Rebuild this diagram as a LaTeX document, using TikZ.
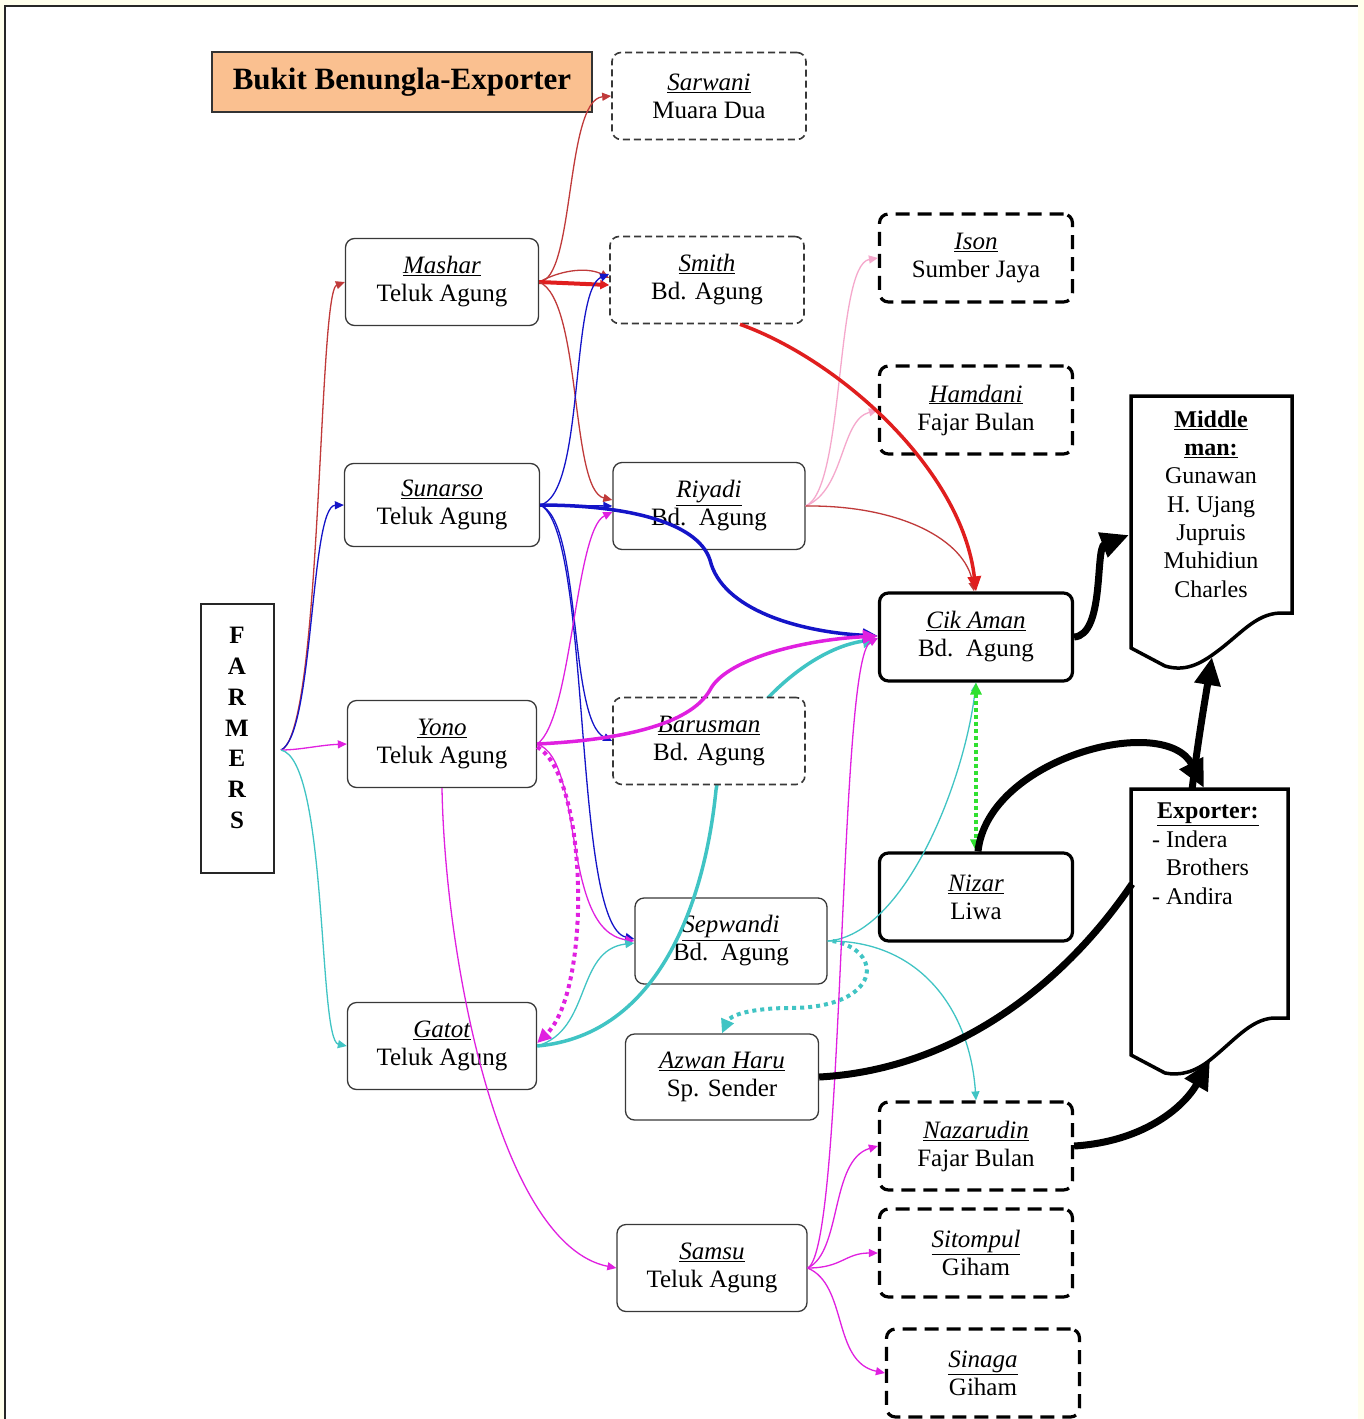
\documentclass[tikz,border=0pt]{standalone}
\usepackage{fontspec}
\setmainfont{Liberation Serif}
\usetikzlibrary{arrows.meta}
\definecolor{cream}{HTML}{FFFFEC}
\definecolor{peach}{HTML}{FAC090}
\definecolor{cred}{HTML}{E01E1E}
\definecolor{cdred}{HTML}{C03A3A}
\definecolor{cblue}{HTML}{1414C8}
\definecolor{cmag}{HTML}{E020E0}
\definecolor{ccyan}{HTML}{40C4C4}
\definecolor{cpink}{HTML}{F5A8CC}
\definecolor{cgreen}{HTML}{30E030}
\newcommand{\nmx}[1]{\underline{\textit{#1}}}
\begin{document}
\begin{tikzpicture}[x=1pt,y=-1pt,
  every node/.style={font=\fontsize{25}{28}\selectfont, align=center, inner sep=0pt},
  tbox/.style={draw=black!78, line width=1.3pt, rounded corners=9pt, fill=white, minimum width=193pt, minimum height=87pt},
  kbox/.style={draw=black, line width=3.2pt, rounded corners=9pt, fill=white, minimum width=193pt, minimum height=88pt},
  dbox/.style={draw=black!78, line width=1.6pt, dash pattern=on 7pt off 4pt, rounded corners=9pt, fill=white, minimum width=194pt, minimum height=87pt},
  kdbox/.style={draw=black, line width=3.2pt, dash pattern=on 14pt off 8pt, rounded corners=9pt, fill=white, minimum width=193pt, minimum height=88pt},
  cthin/.style={line width=1.3pt, -{Triangle[length=9pt,width=8pt]}},
  cmed/.style={line width=3.5pt, -{Triangle[length=15pt,width=13pt]}},
  cbig/.style={line width=7pt, -{Triangle[length=28pt,width=25pt]}},
  cdots/.style={line width=4pt, dash pattern=on 4pt off 4pt, -{Triangle[length=14pt,width=13pt]}},
  docline/.style={draw=black, line width=3.5pt, fill=white, line join=miter}
]
\useasboundingbox (0,0) rectangle (1364,1419);
% page frame
\fill[cream] (0,0) rectangle (1364,1419);
\fill[white] (5,6) rectangle (1358,1419);
\draw[line width=2pt, black!85] (5,1419) -- (5,6) -- (1358,6);

% title
\node[draw=black!80, line width=1.3pt, fill=peach, minimum width=380pt, minimum height=60pt,
      font=\fontsize{31}{35}\selectfont\bfseries] (title) at (402,82) {Bukit Benungla-Exporter};

% farmers
\node[draw=black!85, line width=1.5pt, minimum width=73pt, minimum height=269pt] (farmers) at (237.5,738.5) {};
\node[font=\fontsize{25}{30.8}\selectfont\bfseries] (farmerslbl) at (237,728) {F\\A\\R\\M\\E\\R\\S};
\coordinate (fsrc) at (281,750);

% boxes
\node[dbox] (sarwani) at (709,96) {\nmx{Sarwani}\\Muara Dua};
\node[dbox] (smith) at (707,280) {\nmx{Smith}\\Bd. Agung};
\node[kdbox] (ison) at (976,258) {\nmx{Ison}\\Sumber Jaya};
\node[kdbox] (hamdani) at (976,410) {\nmx{Hamdani}\\Fajar Bulan};
\node[tbox] (mashar) at (442,282) {\nmx{Mashar}\\Teluk Agung};
\node[tbox, minimum width=195pt, minimum height=83pt] (sunarso) at (442,505) {\nmx{Sunarso}\\Teluk Agung};
\node[tbox, minimum width=192pt] (riyadi) at (709,506) {\nmx{Riyadi}\\Bd.\ \ Agung};
\node[kbox] (cikaman) at (976,637) {\nmx{Cik Aman}\\Bd.\ \ Agung};
\node[tbox, minimum width=189pt] (yono) at (442,744) {\nmx{Yono}\\Teluk Agung};
\node[kbox] (nizar) at (976,897) {\nmx{Nizar}\\Liwa};
\node[tbox, minimum width=192pt, minimum height=86pt] (sepwandi) at (731,941) {\nmx{Sepwandi}\\Bd.\ \ Agung};
\node[tbox, minimum width=189pt] (gatot) at (442,1046) {\nmx{Gatot}\\Teluk Agung};
\node[tbox, minimum height=86pt] (azwan) at (722,1077) {\nmx{Azwan Haru}\\Sp. Sender};
\node[kdbox] (nazarudin) at (976,1146) {\nmx{Nazarudin}\\Fajar Bulan};
\node[tbox, minimum width=190pt] (samsu) at (712,1268) {\nmx{Samsu}\\Teluk Agung};
\node[kdbox] (sitompul) at (976,1253) {\nmx{Sitompul}\\Giham};
\node[kdbox] (sinaga) at (983,1373) {\nmx{Sinaga}\\Giham};

% document shapes
\draw[docline] (1131,396) -- (1292,396) -- (1292,613) -- (1280,613)
  .. controls (1255,614) and (1240,635) .. (1215,653)
  .. controls (1200,664) and (1185,672) .. (1165,666) -- (1131,648) -- cycle;
\node[font=\fontsize{24}{28.3}\selectfont] (mmtext) at (1211,504)
  {\textbf{\underline{Middle}}\\\textbf{\underline{man:}}\\Gunawan\\H. Ujang\\Jupruis\\Muhidiun\\Charles};
\draw[docline] (1131,789) -- (1288,789) -- (1288,1018) -- (1273,1018)
  .. controls (1250,1020) and (1235,1040) .. (1210,1060)
  .. controls (1195,1072) and (1180,1076) .. (1165,1073) -- (1131,1055) -- cycle;
\node[anchor=north west, align=left, font=\fontsize{24}{28.5}\selectfont] (exptext) at (1152,803)
  {\hspace*{5pt}\textbf{\underline{Exporter:}}\\- Indera\\\hspace*{14pt}Brothers\\- Andira};
\coordinate (mmleft) at (1129,535);
\coordinate (mmbottom) at (1212,657);
\coordinate (exptop) at (1204,788);
\coordinate (exptopb) at (1192,790);
\coordinate (expleft) at (1132,884);
\coordinate (expbottom) at (1210,1061);

% thick cyan (hidden under Barusman)
\draw[cmed, ccyan] (gatot.east) .. controls (660,1035) and (705,900) .. (716,790)
  .. controls (725,730) and (800,650) .. ([yshift=-2pt]cikaman.west);
\node[dbox, minimum width=192pt] (barusman) at (709,741) {\nmx{Barusman}\\Bd. Agung};

% farmers fan
\draw[cthin, cdred] (fsrc) .. controls (322,735) and (318,292) .. (mashar.west);
\draw[cthin, cblue] (fsrc) .. controls (314,735) and (310,506) .. (sunarso.west);
\draw[cthin, cmag] (fsrc) .. controls (300,750) and (320,745) .. (yono.west);
\draw[cthin, ccyan] (fsrc) .. controls (328,760) and (318,1040) .. (gatot.west);

% mashar
\draw[cthin, cdred] (mashar.east) .. controls (575,280) and (565,100) .. (sarwani.west);
\draw[cthin, cdred] (mashar.east) .. controls (565,268) and (590,268) .. ([yshift=2pt]smith.west);
\draw[line width=4pt, cred, -{Triangle[length=9pt,width=9pt]}] (mashar.east) -- ([yshift=-5pt]smith.west);
\draw[cthin, cdred] (mashar.east) .. controls (582,300) and (570,490) .. ([yshift=6pt]riyadi.west);

% sunarso
\draw[cthin, cblue] (sunarso.east) .. controls (585,495) and (570,290) .. ([yshift=6pt]smith.west);
\draw[cthin, cblue] (sunarso.east) -- (riyadi.west);
\draw[cthin, cblue] (sunarso.east) .. controls (582,520) and (568,720) .. (barusman.west);
\draw[cthin, cblue] (sunarso.east) .. controls (592,530) and (572,925) .. ([yshift=2pt]sepwandi.west);
\draw[cmed, cblue] (sunarso.east) .. controls (620,505) and (697,520) .. (710,560)
  .. controls (722,610) and (800,632) .. ([yshift=1pt]cikaman.west);

% yono
\draw[cthin, cmag] (yono.east) .. controls (572,720) and (575,530) .. ([yshift=-6pt]riyadi.west);
\draw[cthin, cmag] (yono.east) .. controls (585,760) and (560,930) .. (sepwandi.west);
\draw[cdots, cmag] ([yshift=-3pt]yono.east) .. controls (588,775) and (592,990) .. ([yshift=3pt]gatot.east);
\draw[cthin, cmag] (yono.south) .. controls (445,960) and (500,1245) .. (samsu.west);
\draw[cmed, cmag] (yono.east) .. controls (620,740) and (690,725) .. (710,690)
  .. controls (725,660) and (800,640) .. ([yshift=1pt]cikaman.west);

% gatot
\draw[cthin, ccyan] (gatot.east) .. controls (592,1030) and (575,950) .. ([yshift=-2pt]sepwandi.west);

% sepwandi
\draw[cthin, ccyan] (sepwandi.east) .. controls (905,935) and (965,780) .. (cikaman.south);
\draw[cthin, ccyan] (sepwandi.east) .. controls (920,940) and (970,1010) .. (nazarudin.north);
\draw[cdots, ccyan] ([xshift=5pt]sepwandi.east) .. controls (885,950) and (882,1008) .. (790,1008)
  .. controls (752,1008) and (730,1015) .. (azwan.north);

% samsu
\draw[cthin, cmag] (samsu.east) .. controls (845,1250) and (838,660) .. ([yshift=-1pt]cikaman.west);
\draw[cthin, cmag] (samsu.east) .. controls (842,1252) and (830,1160) .. (nazarudin.west);
\draw[cthin, cmag] (samsu.east) .. controls (842,1268) and (845,1253) .. (sitompul.west);
\draw[cthin, cmag] (samsu.east) .. controls (848,1285) and (832,1362) .. (sinaga.west);

% riyadi
\draw[cthin, cpink] (riyadi.east) .. controls (845,490) and (835,265) .. (ison.west);
\draw[cthin, cpink] (riyadi.east) .. controls (845,490) and (840,420) .. (hamdani.west);
\draw[cthin, cdred] (riyadi.east) .. controls (900,505) and (966,540) .. ([xshift=-2pt]cikaman.north);

% smith -> cik aman
\draw[cmed, cred] ([xshift=33pt]smith.south) .. controls (840,360) and (962,470) .. (cikaman.north);

% green
\draw[line width=3.5pt, cgreen, dash pattern=on 4pt off 3pt, {Triangle[length=12pt,width=11pt]}-{Triangle[length=12pt,width=11pt]}]
  (cikaman.south) -- (nizar.north);

% black
\draw[cbig] (cikaman.east) .. controls (1105,635) and (1095,548) .. (mmleft);
\draw[cbig] ([xshift=2pt]nizar.north) .. controls (988,758) and (1165,712) .. (exptop);
\draw[cbig] (exptopb) .. controls (1198,740) and (1205,700) .. (mmbottom);
\draw[line width=7pt] (azwan.east) .. controls (950,1070) and (1060,990) .. (expleft);
\draw[cbig] (nazarudin.east) .. controls (1140,1142) and (1182,1110) .. (expbottom);
\end{tikzpicture}
\end{document}
